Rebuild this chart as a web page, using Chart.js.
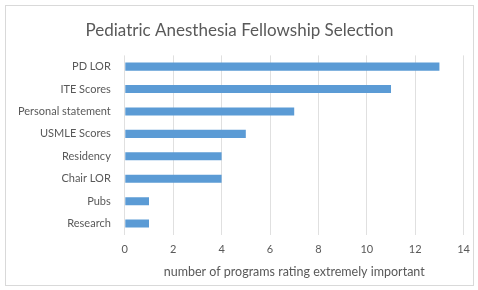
<!DOCTYPE html>
<html>
<head>
<meta charset="utf-8">
<script src="https://cdn.jsdelivr.net/npm/chart.js@4/dist/chart.umd.min.js"></script>
<style>
  body { margin: 0; background: #fff; }
  #frame { position: absolute; left: 5px; top: 5px; width: 467px; height: 279px; border: 1px solid #d9d9d9; }
  #wrap { position: absolute; left: 0; top: 0; width: 478px; height: 290px; }
</style>
</head>
<body>
<div id="frame"></div>
<div id="wrap"><canvas id="chart" width="478" height="290"></canvas></div>
<script>
var categories = ['PD LOR', 'ITE Scores', 'Personal statement', 'USMLE Scores', 'Residency', 'Chair LOR', 'Pubs', 'Research'];
var values = [13, 11, 7, 5, 4, 4, 1, 1];
var xTicks = [0, 2, 4, 6, 8, 10, 12, 14];

var ctx = document.getElementById('chart');

new Chart(ctx, {
  type: 'bar',
  data: {
    labels: categories,
    datasets: [{
      label: 'Programs',
      data: values,
      backgroundColor: '#5b9bd5',
      barPercentage: 0.72,
      categoryPercentage: 0.5
    }]
  },
  options: {
    indexAxis: 'y',
    responsive: false,
    animation: false,
    layout: { padding: { left: 12, right: 11, top: 20, bottom: 7 } },
    plugins: {
      legend: { display: false },
      tooltip: { enabled: false },
      title: {
        display: true,
        text: 'Pediatric Anesthesia Fellowship Selection',
        color: '#595959',
        font: { family: 'Lato', size: 17, weight: 'normal' },
        padding: { top: 0, bottom: 15 }
      }
    },
    scales: {
      x: {
        min: 0,
        max: xTicks[xTicks.length - 1],
        ticks: { stepSize: 2, color: '#595959', font: { family: 'Lato', size: 11 }, padding: 8 },
        grid: { color: '#e0e0e0', drawTicks: false },
        border: { display: false },
        title: {
          display: true,
          text: 'number of programs rating extremely important',
          color: '#595959',
          font: { family: 'Lato', size: 12.5 },
          padding: { top: 0 }
        }
      },
      y: {
        ticks: { color: '#595959', font: { family: 'Lato', size: 11 }, padding: 6 },
        grid: { display: false },
        border: { display: false }
      }
    }
  }
});
</script>
</body>
</html>
